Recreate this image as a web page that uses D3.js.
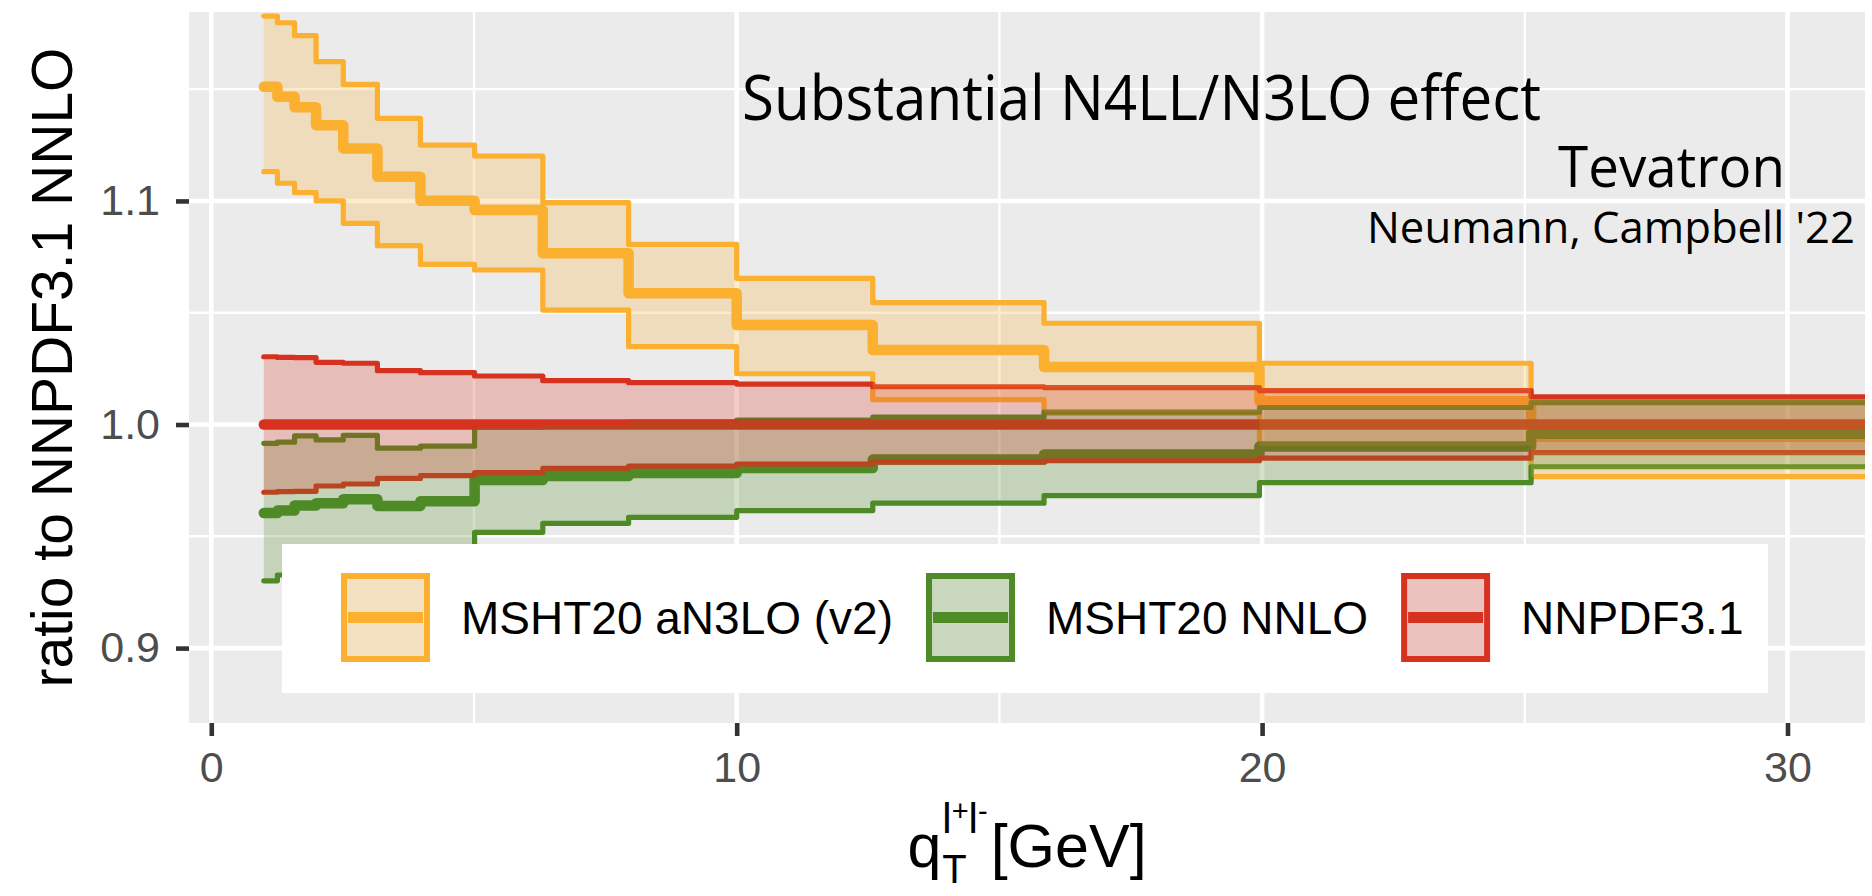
<!DOCTYPE html>
<html>
<head>
<meta charset="utf-8">
<script src="https://cdn.jsdelivr.net/npm/d3@7"></script>
<style>
  body { margin: 0; background: #fff; }
  svg { display: block; }
</style>
</head>
<body>
<svg id="chart" width="1872" height="896"></svg>
<script>
// bin edges of q_T (GeV), 10 bins per decade
const edges = [1, 1.259, 1.585, 1.995, 2.512, 3.162, 3.981, 5.012, 6.310, 7.943, 10, 12.59, 15.85, 19.95, 25.12, 31.62];

// MSHT20 aN3LO (v2)
const orangeMid = [1.1511, 1.1466, 1.1419, 1.1339, 1.1235, 1.1108, 1.1001, 1.0959, 1.0766, 1.0587, 1.0445, 1.0333, 1.0257, 1.0104, 0.9945];
const orangeHi  = [1.1827, 1.1797, 1.1739, 1.1623, 1.1521, 1.1369, 1.1250, 1.1201, 1.0992, 1.0806, 1.0654, 1.0545, 1.0453, 1.0274, 1.0115];
const orangeLo  = [1.1131, 1.1079, 1.1037, 1.1000, 1.0900, 1.0800, 1.0716, 1.0691, 1.0512, 1.0348, 1.0227, 1.0111, 1.0050, 0.9905, 0.9767];

// MSHT20 NNLO
const greenMid = [0.9604, 0.9615, 0.9638, 0.9648, 0.9666, 0.9636, 0.9657, 0.9752, 0.9770, 0.9783, 0.9805, 0.9843, 0.9866, 0.9902, 0.9959];
const greenHi  = [0.9916, 0.9921, 0.9949, 0.9931, 0.9951, 0.9894, 0.9903, 0.9988, 0.9999, 1.0011, 1.0020, 1.0033, 1.0056, 1.0076, 1.0098];
const greenLo  = [0.9301, 0.9327, 0.9350, 0.9365, 0.9380, 0.9370, 0.9390, 0.9518, 0.9558, 0.9585, 0.9615, 0.9648, 0.9682, 0.9740, 0.9811];

// NNPDF3.1 (reference)
const redMid = [1, 1, 1, 1, 1, 1, 1, 1, 1, 1, 1, 1, 1, 1, 1];
const redHi  = [1.0303, 1.0300, 1.0299, 1.0278, 1.0274, 1.0241, 1.0232, 1.0217, 1.0196, 1.0187, 1.0181, 1.0169, 1.0165, 1.0152, 1.0124];
const redLo  = [0.9697, 0.9700, 0.9701, 0.9725, 0.9734, 0.9759, 0.9771, 0.9785, 0.9804, 0.9814, 0.9823, 0.9832, 0.9838, 0.9850, 0.9874];

const seriesNames = ['MSHT20 aN3LO (v2)', 'MSHT20 NNLO', 'NNPDF3.1'];
const xTicks = [0, 10, 20, 30];
const yTicks = [0.9, 1.0, 1.1];

const colors = ['#FBB030', '#4E8A26', '#D7321F'];
const series = [
  { name: seriesNames[0], mid: orangeMid, hi: orangeHi, lo: orangeLo, color: colors[0] },
  { name: seriesNames[1], mid: greenMid, hi: greenHi, lo: greenLo, color: colors[1] },
  { name: seriesNames[2], mid: redMid, hi: redHi, lo: redLo, color: colors[2] },
];

const svg = d3.select('#chart');
const panel = { left: 189, right: 1865, top: 12, bottom: 723 };
const sansFont = "'Liberation Sans', Arial, Helvetica, sans-serif";
const annoFont = "'Open Sans', 'Noto Sans', sans-serif";

const x = d3.scaleLinear().domain([-0.424, 31.475]).range([panel.left, panel.right]);
const y = d3.scaleLinear().domain([0.8665, 1.1845]).range([panel.bottom, panel.top]);

svg.append('rect')
  .attr('width', 1872).attr('height', 896).attr('fill', '#fff');

/****************** panel + grid ******************/
svg.append('clipPath').attr('id', 'clip')
  .append('rect')
  .attr('x', panel.left).attr('y', panel.top)
  .attr('width', panel.right - panel.left).attr('height', panel.bottom - panel.top);

svg.append('rect')
  .attr('x', panel.left).attr('y', panel.top)
  .attr('width', panel.right - panel.left).attr('height', panel.bottom - panel.top)
  .attr('fill', '#EBEBEB');

const grid = svg.append('g').attr('clip-path', 'url(#clip)');
const xMinor = [-5, 5, 15, 25, 35];
const yMinor = [0.85, 0.95, 1.05, 1.15];

grid.selectAll('.xminor').data(xMinor).join('line')
  .attr('x1', d => x(d)).attr('x2', d => x(d))
  .attr('y1', panel.top).attr('y2', panel.bottom)
  .attr('stroke', '#fff').attr('stroke-width', 2.4);
grid.selectAll('.yminor').data(yMinor).join('line')
  .attr('y1', d => y(d)).attr('y2', d => y(d))
  .attr('x1', panel.left).attr('x2', panel.right)
  .attr('stroke', '#fff').attr('stroke-width', 2.4);
grid.selectAll('.xmajor').data(xTicks).join('line')
  .attr('x1', d => x(d)).attr('x2', d => x(d))
  .attr('y1', panel.top).attr('y2', panel.bottom)
  .attr('stroke', '#fff').attr('stroke-width', 4.6);
grid.selectAll('.ymajor').data(yTicks).join('line')
  .attr('y1', d => y(d)).attr('y2', d => y(d))
  .attr('x1', panel.left).attr('x2', panel.right)
  .attr('stroke', '#fff').attr('stroke-width', 4.6);

/****************** step lines + bands ******************/
// every bin value repeated at the last edge so the step closes
const stepPoints = vals => edges.map((e, i) => ({ x: e, v: vals[Math.min(i, vals.length - 1)] }));
const bandPoints = (lo, hi) => edges.map((e, i) => {
  const k = Math.min(i, lo.length - 1);
  return { x: e, lo: lo[k], hi: hi[k] };
});

const line = d3.line().curve(d3.curveStepAfter).x(d => x(d.x)).y(d => y(d.v));
const area = d3.area().curve(d3.curveStepAfter)
  .x(d => x(d.x)).y0(d => y(d.lo)).y1(d => y(d.hi));

const plot = svg.append('g').attr('clip-path', 'url(#clip)');

// lines first, the translucent bands go on top of all of them
series.forEach(s => {
  [s.hi, s.lo].forEach(vals => {
    plot.append('path')
      .datum(stepPoints(vals))
      .attr('d', line)
      .attr('fill', 'none')
      .attr('stroke', s.color)
      .attr('stroke-width', 5.2)
      .attr('stroke-linejoin', 'round')
      .attr('stroke-linecap', 'round');
  });
  plot.append('path')
    .datum(stepPoints(s.mid))
    .attr('d', line)
    .attr('fill', 'none')
    .attr('stroke', s.color)
    .attr('stroke-width', 10.5)
    .attr('stroke-linejoin', 'round')
    .attr('stroke-linecap', 'round');
});

series.forEach(s => {
  plot.append('path')
    .datum(bandPoints(s.lo, s.hi))
    .attr('d', area)
    .attr('fill', s.color)
    .attr('fill-opacity', 0.25);
});

/****************** axes ******************/
const xAxis = svg.append('g')
  .attr('transform', `translate(0,${panel.bottom})`)
  .call(d3.axisBottom(x).tickValues(xTicks).tickSize(13).tickPadding(15).tickFormat(d3.format('d')));
const yAxis = svg.append('g')
  .attr('transform', `translate(${panel.left},0)`)
  .call(d3.axisLeft(y).tickValues(yTicks).tickSize(13).tickPadding(16).tickFormat(d3.format('.1f')));

[xAxis, yAxis].forEach(a => {
  a.select('.domain').remove();
  a.selectAll('.tick line').attr('stroke', '#333').attr('stroke-width', 4.6);
  a.selectAll('.tick text')
    .attr('fill', '#4D4D4D')
    .attr('font-size', 43)
    .attr('font-family', sansFont);
});

// y title
svg.append('text')
  .text('ratio to NNPDF3.1 NNLO')
  .attr('transform', `translate(72,${(panel.top + panel.bottom) / 2}) rotate(-90)`)
  .attr('text-anchor', 'middle')
  .attr('font-size', 57)
  .attr('font-family', sansFont)
  .attr('fill', '#000');

// x title: q with T below and l+l- above, then [GeV]
const xt = svg.append('g').attr('font-family', sansFont).attr('fill', '#000');
const base = 867;
const qText = xt.append('text').text('q').attr('font-size', 61).attr('y', base);
const qW = qText.node().getComputedTextLength();
const supText = xt.append('text').attr('y', base - 34).attr('x', qW + 1);
supText.append('tspan').text('l').attr('font-size', 42);
supText.append('tspan').text('+').attr('font-size', 29).attr('dy', -12);
supText.append('tspan').text('l').attr('font-size', 42).attr('dy', 12);
supText.append('tspan').text('-').attr('font-size', 29).attr('dy', -12);
const subText = xt.append('text').text('T').attr('font-size', 40).attr('y', base + 16).attr('x', qW + 1);
const scriptW = Math.max(supText.node().getComputedTextLength(), subText.node().getComputedTextLength());
const unitText = xt.append('text').text('[GeV]').attr('font-size', 61).attr('y', base).attr('x', qW + 1 + scriptW + 3);
const totalW = qW + 1 + scriptW + 3 + unitText.node().getComputedTextLength();
xt.attr('transform', `translate(${(panel.left + panel.right) / 2 - totalW / 2},0)`);

/****************** annotations ******************/
svg.append('text')
  .text('Substantial N4LL/N3LO effect')
  .attr('x', 742).attr('y', 120)
  .attr('font-size', 62)
  .attr('font-family', annoFont)
  .attr('textLength', 799)
  .attr('lengthAdjust', 'spacingAndGlyphs');

svg.append('text')
  .text('Tevatron')
  .attr('x', 1558).attr('y', 187)
  .attr('font-size', 57)
  .attr('font-family', annoFont)
  .attr('textLength', 227)
  .attr('lengthAdjust', 'spacingAndGlyphs');

svg.append('text')
  .text("Neumann, Campbell '22")
  .attr('x', 1367).attr('y', 243)
  .attr('font-size', 43)
  .attr('font-family', annoFont)
  .attr('textLength', 488)
  .attr('lengthAdjust', 'spacingAndGlyphs');

/****************** legend ******************/
const legend = svg.append('g');
legend.append('rect')
  .attr('x', 282).attr('y', 544)
  .attr('width', 1486).attr('height', 149)
  .attr('fill', '#fff');

let lx = 341;
const keyTop = 573, keySize = 89;
series.forEach(s => {
  legend.append('rect')
    .attr('x', lx).attr('y', keyTop)
    .attr('width', keySize).attr('height', keySize)
    .attr('fill', '#F2F2F2');
  legend.append('rect')
    .attr('x', lx + 3).attr('y', keyTop + 3)
    .attr('width', keySize - 6).attr('height', keySize - 6)
    .attr('fill', s.color).attr('fill-opacity', 0.25)
    .attr('stroke', s.color).attr('stroke-width', 6);
  legend.append('line')
    .attr('x1', lx + 7).attr('x2', lx + keySize - 7)
    .attr('y1', keyTop + keySize / 2).attr('y2', keyTop + keySize / 2)
    .attr('stroke', s.color).attr('stroke-width', 11);
  const label = legend.append('text')
    .text(s.name)
    .attr('x', lx + keySize + 31)
    .attr('y', keyTop + keySize / 2 + 16.5)
    .attr('font-size', 46)
    .attr('font-family', sansFont)
    .attr('fill', '#000');
  lx = lx + keySize + 31 + label.node().getComputedTextLength() + 33;
});
</script>
</body>
</html>
